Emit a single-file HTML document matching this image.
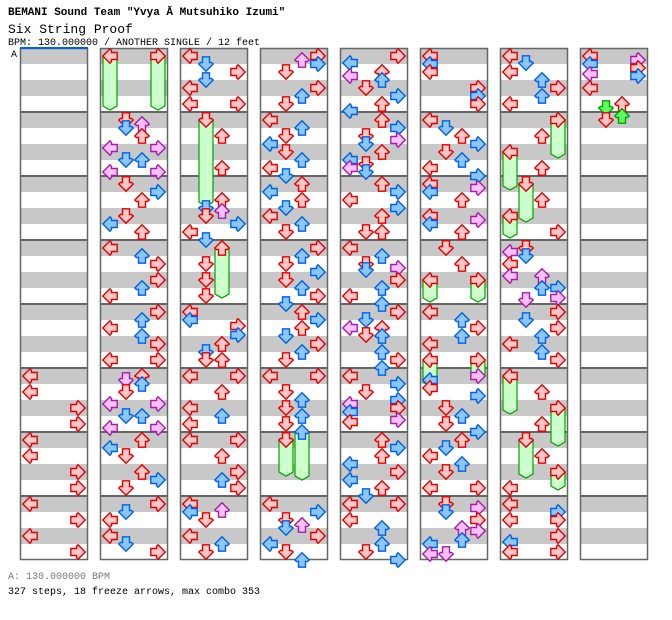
<!DOCTYPE html>
<html><head><meta charset="utf-8"><style>
body{margin:0;background:#fff;width:672px;height:620px;overflow:hidden}
svg{display:block}
</style></head><body>
<svg id="s" width="672" height="620" xmlns="http://www.w3.org/2000/svg">
<text x="8" y="15" font-family="Liberation Mono, monospace" font-size="11" font-weight="bold" fill="#000">BEMANI Sound Team "Yvya Ă  Mutsuhiko Izumi"</text>
<text x="8" y="33" font-family="Liberation Mono, monospace" font-size="13" fill="#000">Six String Proof</text>
<text x="8" y="45" font-family="Liberation Mono, monospace" font-size="10" fill="#000">BPM: 130.000000 / ANOTHER SINGLE / 12 feet</text>
<text x="11" y="57" font-family="Liberation Mono, monospace" font-size="10" fill="#000">A</text>
<text x="8" y="579" font-family="Liberation Mono, monospace" font-size="10" fill="#777">A: 130.000000 BPM</text>
<text x="8" y="594" font-family="Liberation Mono, monospace" font-size="10" fill="#000">327 steps, 18 freeze arrows, max combo 353</text>
<g id="g"></g>
</svg>
<script>
var NS="http://www.w3.org/2000/svg",g=document.getElementById('g');
function el(t,a){var e=document.createElementNS(NS,t);for(var k in a)e.setAttribute(k,a[k]);g.appendChild(e);return e;}
for(var c=0;c<8;c++){var x=20+c*80;
 for(var i=0;i<32;i++){if(i%2==0)el('rect',{x:x,y:48+i*16,width:68,height:16,fill:'#c8c8c8'});}
 for(var m=1;m<8;m++)el('rect',{x:x,y:48+m*64-1,width:68,height:2,fill:'#666'});
 el('rect',{x:x+0.5,y:48.5,width:67,height:511,fill:'none',stroke:'#666','stroke-width':1.5});
}
el('rect',{x:20,y:47,width:68,height:2,fill:'#0060e0'});
var COL={r:['#ffc8c8','#e00000'],b:['#8cc6ff','#0060e0'],p:['#ffc0ff','#a020a0'],g:['#60ff60','#00a000']};
var ROT={L:0,D:-90,U:90,R:180},LX={L:2,D:18,U:34,R:50};
var freezes=[[1,'L',0,62],[1,'R',0,62],[2,'D',64,158],[2,'U',192,250],
[3,'U',376,432],[3,'D',384,428],[5,'L',224,254],[5,'R',224,254],[5,'L',304,338],[5,'R',304,332],
[6,'R',64,110],[6,'L',96,142],[6,'D',128,174],[6,'L',160,190],[6,'L',320,366],[6,'R',352,398],[6,'D',384,430],[6,'R',416,442]];
var D=[
"320Lr 336Lr 352Rr 368Rr 384Lr 400Lr 416Rr 432Rr 448Lr 464Rr 480Lr 496Rr",
"0Lr 0Rr 64Dr 68Up 72Db 80Ur 92Lp 92Rp 104Db 104Ub 116Lp 116Rp 128Dr 136Rb 144Ur 160Dr 168Lb 176Ur 192Lr 200Ub 208Rr 224Rr 232Ub 240Lr 256Rr 264Ub 272Lr 280Ub 288Rr 304Lr 304Rr 320Ur 324Dp 328Ub 336Dr 348Lp 348Rp 360Db 360Ub 372Lp 372Rp 384Ur 392Lb 400Dr 416Ur 424Rb 432Dr 448Rr 456Db 464Lr 480Lr 488Db 496Rr",
"0Lr 8Db 16Rr 24Db 32Lr 48Lr 48Rr 64Dr 80Ur 112Ur 144Ur 152Db 155Up 160Dr 168Rb 176Lr 184Db 192Ur 208Dr 224Dr 240Dr 256Lr 264Lb 270Rr 279Rb 288Ur 296Db 304Dr 304Ur 320Lr 320Rr 336Ur 352Lr 360Ub 368Lr 384Lr 384Rr 400Ur 416Rr 424Ub 432Rr 448Lr 456Lb 454Up 464Dr 480Lr 488Ub 496Dr",
"0Rr 4Up 8Rb 16Dr 32Rr 40Ub 48Dr 64Lr 72Ub 80Dr 88Lb 96Dr 104Ub 112Lr 120Db 128Ur 136Lb 144Ur 152Db 160Lr 168Ub 176Dr 192Rr 200Ub 208Dr 216Rb 224Dr 232Ub 240Rr 248Db 256Ur 264Rb 272Ur 280Db 288Rr 296Ub 304Dr 320Lr 320Rr 336Dr 344Ub 352Dr 360Ub 368Dr 376Ub 384Dr 448Lr 456Rb 464Dr 469Up 472Db 480Rr 488Lb 496Dr 504Ub",
"0Rr 7Lb 16Ur 20Lp 24Ub 32Dr 40Rb 48Ur 55Lb 64Ur 72Rb 80Dr 84Rp 88Db 96Ur 104Lb 108Dr 112Lp 116Db 128Ur 136Rb 144Lr 152Rb 160Ur 176Dr 176Ur 192Lr 200Ub 208Dr 212Rp 214Db 224Rr 232Ub 240Lr 248Ub 256Rr 264Db 272Lp 272Ur 279Dr 280Ub 296Ub 304Rr 312Ub 320Lr 328Rb 336Dr 344Rb 348Lp 352Rr 356Lb 364Rp 366Lr 384Ur 392Rb 400Ur 408Lb 416Rr 424Lb 432Ur 440Db 448Lr 448Rr 464Lr 472Ub 488Ub 496Dr 504Rb",
"0Lr 8Lb 16Lr 32Rr 40Rb 48Rr 64Lr 72Db 80Ur 88Rb 96Dr 104Ub 112Lr 120Rb 128Lr 132Rp 136Lb 144Ur 160Lr 164Rp 168Lb 176Ur 192Dr 208Ur 224Lr 224Rr 256Lr 264Ub 272Rr 280Ub 288Lr 304Lr 304Rr 320Rp 324Lb 332Lr 340Rb 352Dr 360Ub 368Dr 376Rb 384Ur 392Db 400Lr 408Ub 416Dr 432Lr 432Rr 448Dr 452Rp 456Db 464Rr 472Up 475Rp 484Ub 488Lb 498Lp 498Dp",
"0Lr 7Db 16Lr 24Ub 32Rr 40Ub 48Lr 64Rr 80Ur 96Lr 112Ur 128Dr 144Ur 160Lr 176Rr 192Dr 196Lp 200Db 208Lr 220Lp 220Up 232Ub 232Rb 242Rp 244Dp 256Rr 264Db 272Rr 280Ub 288Lr 296Ub 304Rr 320Lr 336Ur 352Rr 368Ur 384Dr 400Ur 416Rr 432Lr 448Lr 456Rb 464Lr 464Rr 480Rr 486Lb 496Lr 496Rr",
"0Lr 4Rp 8Lb 12Rr 18Lp 20Rb 32Lr 48Ur 52Dg 60Ug 64Dr"
];
function arrow(x,y,lane,col){
 var c=COL[col];
 el('path',{d:'M0.8,8 L8,0.8 L9.5,2.5 L9.5,4.5 L15.2,4.5 L15.2,11.5 L9.5,11.5 L9.5,13.5 L8,15.2 Z',fill:c[0],stroke:c[1],'stroke-width':1.4,'stroke-linejoin':'miter',
 transform:'translate('+(x+8)+','+(y+8)+') rotate('+ROT[lane]+') translate(-8,-8)'});
}
freezes.forEach(function(f){var x=20+f[0]*80+LX[f[1]],t=48+f[2]+8,b=48+f[3];
 el('path',{d:'M'+(x+1)+','+t+' L'+(x+15)+','+t+' L'+(x+15)+','+(b-4)+' L'+(x+8)+','+b+' L'+(x+1)+','+(b-4)+' Z',fill:'#ccffcc',stroke:'#00a000','stroke-width':1.2});
});
D.forEach(function(s,c){s.split(' ').forEach(function(t){
 var m=t.match(/(\d+)([LDUR])([rbpg])/);if(!m)return;
 arrow(20+c*80+LX[m[2]],48+(+m[1]),m[2],m[3]);
});});
</script>
</body></html>
